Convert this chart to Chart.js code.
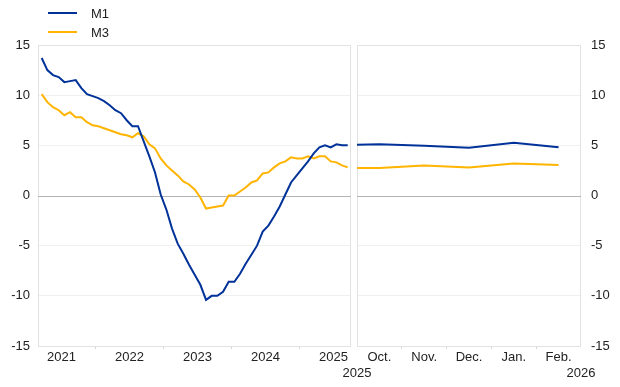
<!DOCTYPE html>
<html lang="en">
<head>
<meta charset="UTF-8">
<title>M1 and M3 growth</title>
<style>
    body {
        margin: 0;
        background: #fff;
        font-family: "Liberation Sans", Arial, sans-serif;
    }
    #wrap { position: relative; width: 620px; height: 387px; }
    #leftBox { position: absolute; left: 0; top: 0; width: 355px; height: 387px; }
    #rightBox { position: absolute; left: 300px; top: 0; width: 320px; height: 387px; }
    .item {
        position: absolute;
        left: 48px;
        height: 16px;
        display: flex;
        align-items: center;
        font-size: 13px;
        color: #222;
    }
    .item .key { width: 29px; height: 2px; margin-right: 14px; }
</style>
<script src="https://cdn.jsdelivr.net/npm/chart.js"></script>
</head>
<body>
<div id="wrap">
    <div id="leftBox"><canvas id="leftChart" width="355" height="387"></canvas></div>
    <div id="rightBox"><canvas id="rightChart" width="320" height="387"></canvas></div>
    <div class="item" style="top:5px"><span class="key" style="background:#003299"></span>M1</div>
    <div class="item" style="top:24px"><span class="key" style="background:#FFB400"></span>M3</div>
</div>
<script>
// monthly annual growth rates, Mar 2021 - Sep 2025 (index 0 = Mar 2021)
const m1 = [13.7, 12.5, 12.0, 11.8, 11.3, 11.4, 11.5, 10.7, 10.1, 9.9, 9.7, 9.4, 9.0, 8.5, 8.2, 7.5,
    6.9, 6.9, 5.4, 3.9, 2.3, 0.1, -1.4, -3.3, -4.8, -5.8, -6.9, -7.9, -8.9, -10.4, -10.0, -10.0,
    -9.6, -8.6, -8.6, -7.8, -6.8, -5.9, -5.0, -3.6, -3.0, -2.1, -1.1, 0.1, 1.3, 2.0, 2.7, 3.4,
    4.2, 4.8, 5.0, 4.8, 5.1, 5.0, 5.0];
const m3 = [10.1, 9.3, 8.8, 8.5, 8.0, 8.3, 7.8, 7.8, 7.3, 7.0, 6.9, 6.7, 6.5, 6.3, 6.1, 6.0,
    5.8, 6.2, 5.9, 5.1, 4.7, 3.7, 3.0, 2.5, 2.0, 1.4, 1.1, 0.6, -0.2, -1.3, -1.2, -1.1,
    -1.0, 0.0, 0.0, 0.4, 0.8, 1.3, 1.5, 2.2, 2.3, 2.8, 3.2, 3.4, 3.8, 3.7, 3.7, 3.9,
    3.7, 3.9, 3.9, 3.4, 3.3, 3.0, 2.8];
const years = ['2021', '2022', '2023', '2024', '2025'];
const yearPos = [3.5, 15.5, 27.5, 39.5, 51.5];      // mid-year, in month index
const yearBreaks = [9.5, 21.5, 33.5, 45.5];

// recent months panel (0 = Oct 2025)
const recentX = [-0.5, 0, 1, 2, 3, 4];
const recentM1 = [5.05, 5.1, 4.95, 4.75, 5.25, 4.8];
const recentM3 = [2.75, 2.75, 3.0, 2.8, 3.2, 3.05];
const months = ['Oct.', 'Nov.', 'Dec.', 'Jan.', 'Feb.'];
const monthPos = [0, 1, 2, 3, 4];
const monthBreaks = [0.5, 1.5, 2.5, 3.5];
const edgeYears = ['2025', '2026'];
const edgePos = [-0.5, 4.5];

const BLUE = '#003299';
const YELLOW = '#FFB400';

Chart.defaults.font.family = '"Liberation Sans", Arial, sans-serif';
Chart.defaults.font.size = 13;
Chart.defaults.color = '#222';

// light frame round the plot area
const frame = {
    id: 'frame',
    beforeDatasetsDraw(chart) {
        const a = chart.chartArea;
        const ctx = chart.ctx;
        ctx.save();
        ctx.strokeStyle = '#e2e2e2';
        ctx.lineWidth = 1;
        ctx.strokeRect(Math.round(a.left) + 0.5, Math.round(a.top) + 0.5,
            Math.round(a.right - a.left) - 1, Math.round(a.bottom - a.top));
        // zero line on top of the frame
        const y0 = Math.round(chart.scales.y.getPixelForValue(0)) + 0.5;
        ctx.strokeStyle = '#b4b4b4';
        ctx.beginPath();
        ctx.moveTo(a.left, y0);
        ctx.lineTo(a.right, y0);
        ctx.stroke();
        ctx.restore();
    }
};

function yAxis(pos, width, pad) {
    return {
        position: pos,
        min: -15, max: 15,
        ticks: { stepSize: 5, padding: pad },
        grid: { drawTicks: false, color: c => c.tick.value === 0 ? 'transparent' : '#f0f0f0' },
        border: { display: false },
        afterFit: s => { s.width = width; }
    };
}

function line(label, data, color) {
    return { label, data, borderColor: color, borderWidth: 2, pointRadius: 0, tension: 0, fill: false };
}

new Chart(document.getElementById('leftChart'), {
    type: 'line',
    data: {
        datasets: [
            line('M1', m1.map((v, i) => ({ x: i, y: v })), BLUE),
            line('M3', m3.map((v, i) => ({ x: i, y: v })), YELLOW)
        ]
    },
    options: {
        responsive: false,
        animation: false,
        devicePixelRatio: 1,
        layout: { padding: { top: 45, right: 4, left: 0, bottom: 0 } },
        plugins: { legend: { display: false }, tooltip: { enabled: false } },
        scales: {
            x: {
                type: 'linear',
                min: -0.65, max: 54.58,
                afterBuildTicks: s => {
                    s.ticks = yearPos.concat(yearBreaks).map(v => ({ value: v }));
                },
                ticks: {
                    autoSkip: false, maxRotation: 0, padding: 1,
                    callback: v => { const k = yearPos.indexOf(v); return k >= 0 ? years[k] : ''; }
                },
                grid: {
                    drawOnChartArea: false, tickLength: 3,
                    tickColor: c => yearBreaks.includes(c.tick.value) ? '#d8d8d8' : 'transparent'
                },
                border: { display: false },
                afterFit: s => { s.height = 41; }
            },
            y: yAxis('left', 38, 8)
        }
    },
    plugins: [frame]
});

new Chart(document.getElementById('rightChart'), {
    type: 'line',
    data: {
        datasets: [
            line('M1', recentM1.map((v, i) => ({ x: recentX[i], y: v })), BLUE),
            line('M3', recentM3.map((v, i) => ({ x: recentX[i], y: v })), YELLOW)
        ]
    },
    options: {
        responsive: false,
        animation: false,
        devicePixelRatio: 1,
        layout: { padding: { top: 45, right: 0, left: 57, bottom: 0 } },
        plugins: { legend: { display: false }, tooltip: { enabled: false } },
        scales: {
            x: {
                type: 'linear',
                min: -0.5, max: 4.5,
                afterBuildTicks: s => {
                    s.ticks = monthPos.concat(monthBreaks, edgePos).map(v => ({ value: v }));
                },
                ticks: {
                    autoSkip: false, maxRotation: 0, padding: 1,
                    callback: v => {
                        const k = monthPos.indexOf(v);
                        if (k >= 0) return months[k];
                        const e = edgePos.indexOf(v);
                        if (e >= 0) return ['', edgeYears[e]];
                        return '';
                    }
                },
                grid: {
                    drawOnChartArea: false, tickLength: 3,
                    tickColor: c => monthBreaks.includes(c.tick.value) ? '#d8d8d8' : 'transparent'
                },
                border: { display: false },
                afterFit: s => { s.height = 41; }
            },
            y: yAxis('right', 39, 10)
        }
    },
    plugins: [frame]
});
</script>
</body>
</html>
